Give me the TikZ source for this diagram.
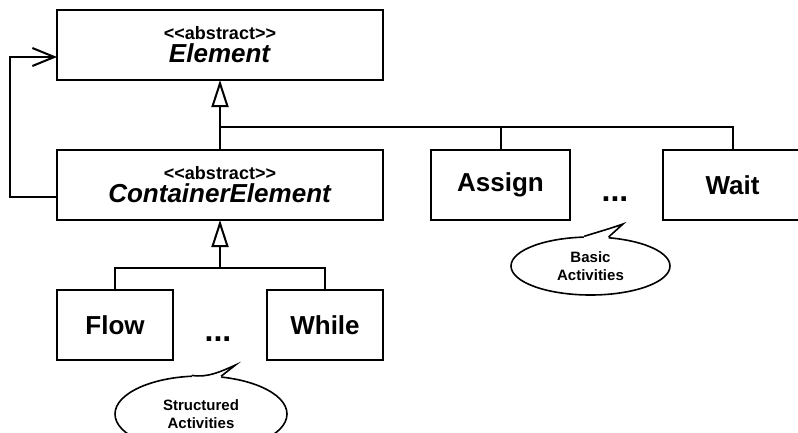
\documentclass[tikz,border=0pt]{standalone}
\usepackage{fontspec}
\setmainfont{Liberation Sans}
\usetikzlibrary{arrows.meta,positioning,shapes.geometric}

\newcommand{\stereo}[1]{{\fontsize{18}{23}\selectfont #1}}

\begin{document}
\begin{tikzpicture}[x=1pt,y=-1pt,line width=2pt,
  classbox/.style={draw,rectangle,inner sep=0pt,outer sep=0pt,minimum height=70pt,
    align=center,font=\bfseries\fontsize{26}{23}\selectfont},
  note/.style={draw,ellipse,inner sep=0pt,align=center,line width=1.6pt,
    font=\bfseries\fontsize{15}{18}\selectfont},
  dots/.style={font=\bfseries\fontsize{32}{32}\selectfont},
  inherit/.style={-{Triangle[open,length=27pt,width=17pt]}},
  assoc/.style={-{Straight Barb[length=22pt,width=18pt]}}]
\useasboundingbox (0,0) rectangle (798,432);

\node (element) [classbox, minimum width=326pt] at (220,45)
  {\stereo{<\kern0pt<abstract>\kern0pt>}\\\textit{Element}};
\node (container) [classbox, minimum width=326pt, below=70pt of element]
  {\stereo{<\kern0pt<abstract>\kern0pt>}\\\textit{ContainerElement}};
\node (assign) [classbox, minimum width=139pt] at (500.5,185) {Assign};
\node (waitact) [classbox, minimum width=139pt, right=93pt of assign] {Wait};
\node (flow) [classbox, minimum width=116pt] at (115,325) {Flow};
\node (whileact) [classbox, minimum width=116pt, right=94pt of flow] {While};
\node (basicdots) [dots] at (615,199) {...};
\node (structdots) [dots] at (218,339) {...};

\node (basic) [note, minimum width=159pt, minimum height=58pt] at (590.5,266) {Basic\\Activities};
\node (structured) [note, minimum width=172pt, minimum height=76pt] at (201,414) {Structured\\Activities};

% generalisation
\coordinate (bus) at (220,127);
\coordinate (sbus) at (220,268);
\draw[inherit] (container.north) -- (element.south);
\draw (assign.north) |- (bus) -| (waitact.north);
\draw[inherit] (sbus) -- (container.south);
\draw (flow.north) |- (sbus) -| (whileact.north);

% container holds elements
\draw[assoc] ([yshift=-12pt]container.west) -- ++(-47,0) |- ([yshift=-12pt]element.west);

% callout tails
\begin{scope}[line width=1.6pt]
\coordinate (basictip) at (623,224);
\fill[white] (basic.102) .. controls (598,232) and (612,228) .. (basictip) -- (basic.58)
  -- ([yshift=-3pt]basic.58) -- ([yshift=-3pt]basic.102) -- cycle;
\draw (basic.102) .. controls (598,232) and (612,228) .. (basictip) -- (basic.58);
\coordinate (structtip) at (235.5,365);
\fill[white] (structured.103) .. controls (208,378) and (222,371) .. (structtip) -- (structured.62)
  -- ([yshift=-3pt]structured.62) -- ([yshift=-3pt]structured.103) -- cycle;
\draw (structured.103) .. controls (208,378) and (222,371) .. (structtip) -- (structured.62);
\end{scope}
\end{tikzpicture}
\end{document}
